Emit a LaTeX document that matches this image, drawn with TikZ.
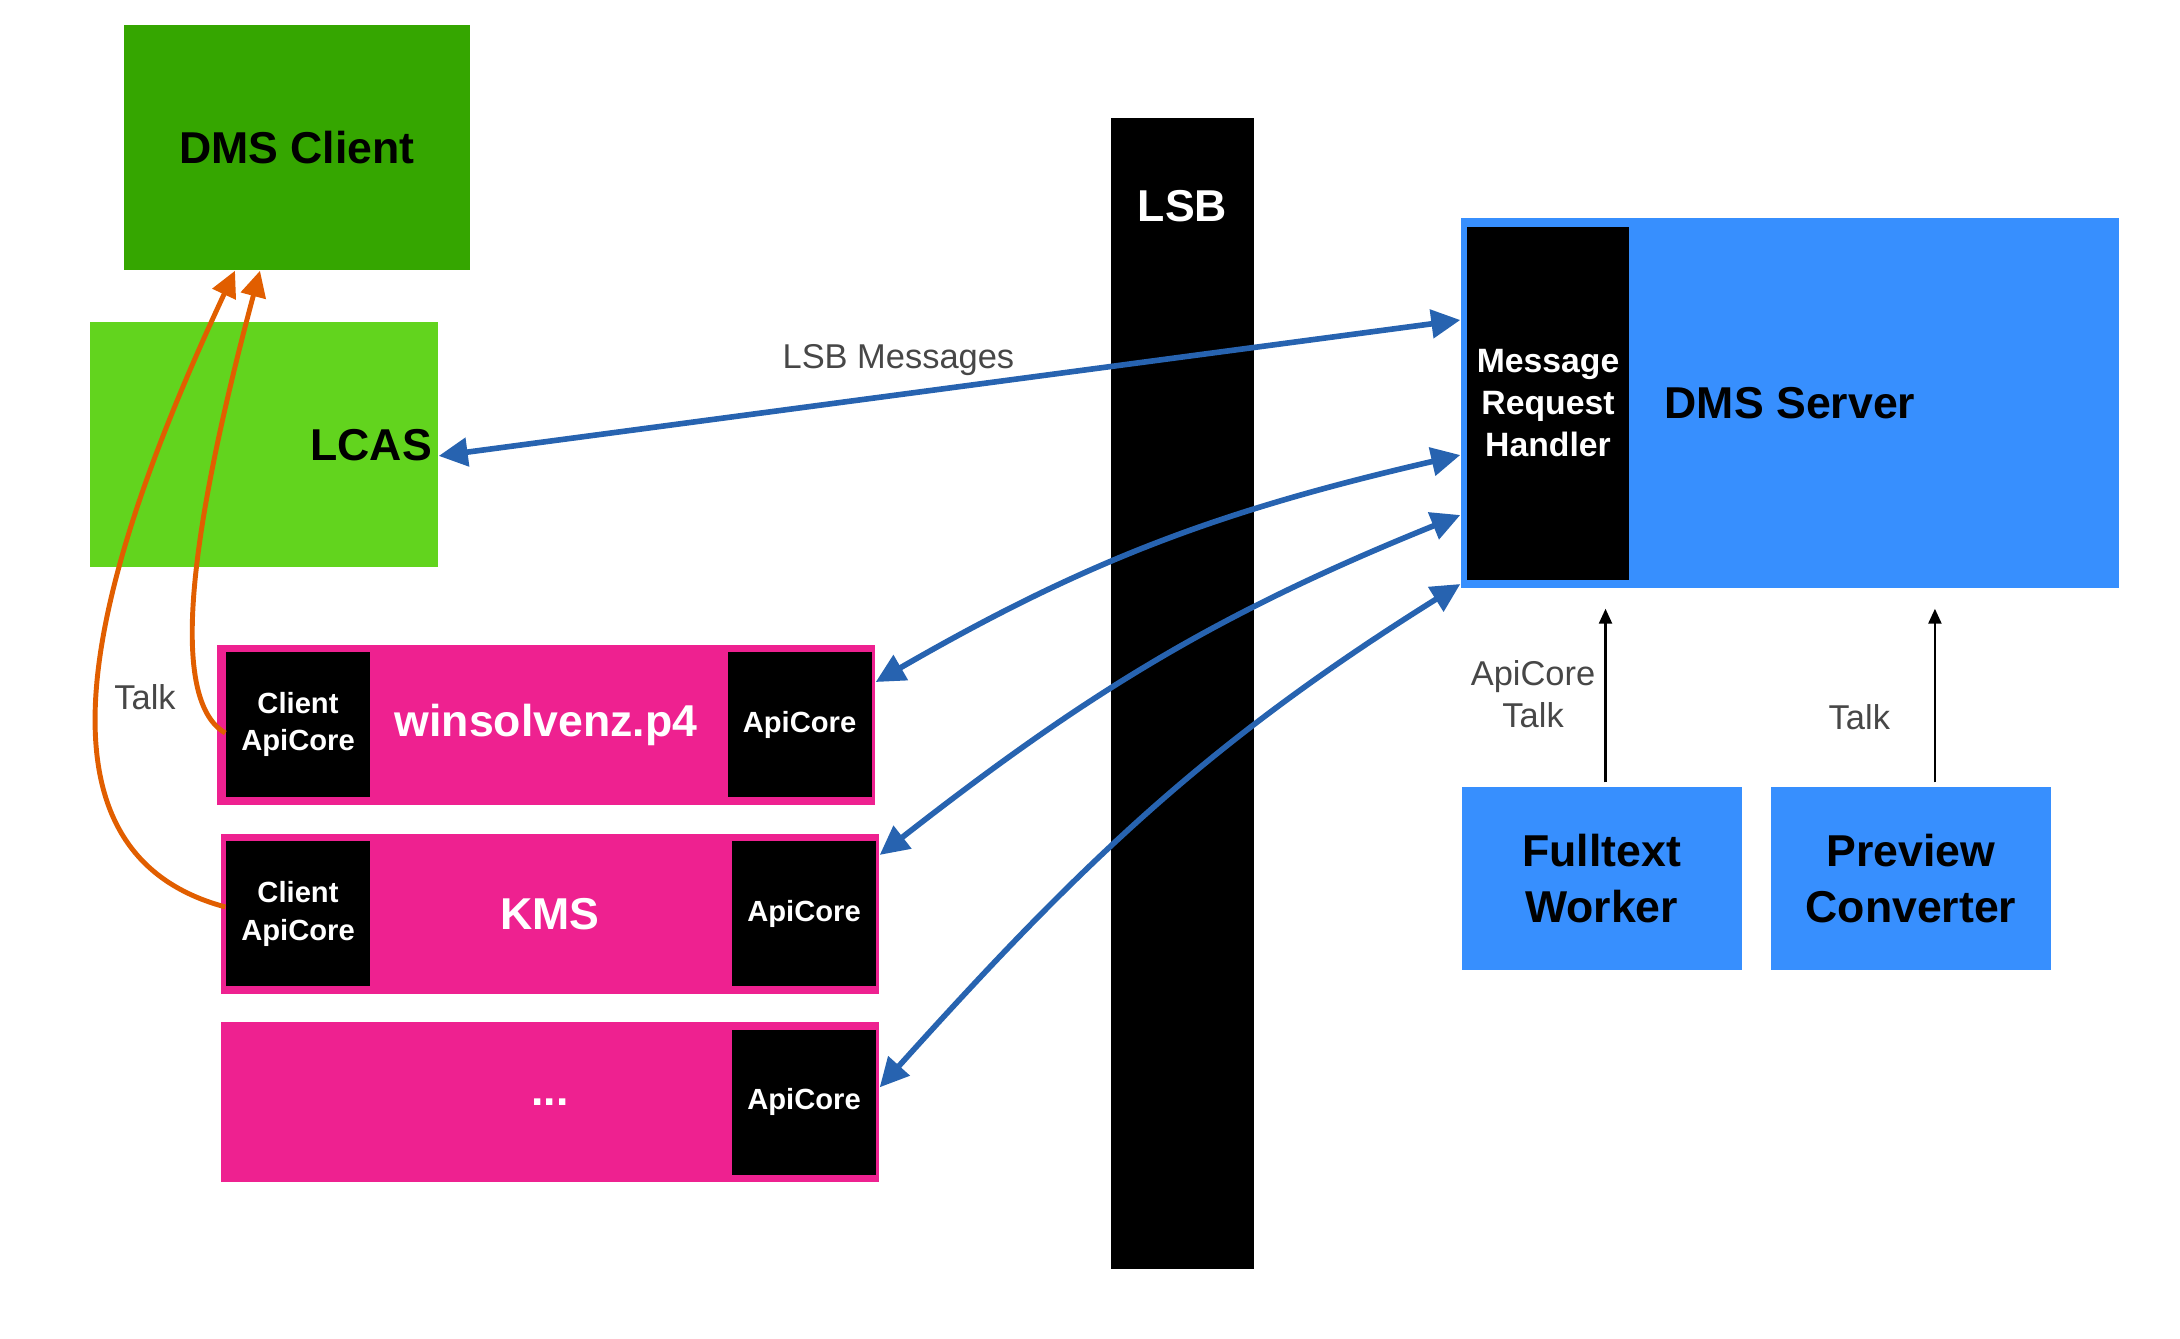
\documentclass[tikz,border=0pt]{standalone}
\usepackage{fontspec}
\setmainfont{Liberation Sans}
\usetikzlibrary{arrows.meta, positioning}

\definecolor{clientgreen}{HTML}{35A600}
\definecolor{lcasgreen}{HTML}{62D41E}
\definecolor{serverblue}{HTML}{378FFE}
\definecolor{apppink}{HTML}{EE2190}
\definecolor{linkblue}{HTML}{2763B0}
\definecolor{talkorange}{HTML}{E15E00}
\definecolor{labelgray}{HTML}{474747}

\tikzset{
    box/.style={rectangle, inner sep=0pt, align=center, font=\fontsize{12.7}{16.2}\selectfont\bfseries},
    clientbox/.style={box, fill=clientgreen, minimum width=3.46cm, minimum height=2.45cm},
    lcasbox/.style={box, fill=lcasgreen, minimum height=2.45cm, text width=3.36cm, inner xsep=0.6mm, align=right},
    serverbox/.style={box, fill=serverblue, minimum width=6.58cm, minimum height=3.70cm},
    handlerbox/.style={box, fill=black, text=white, minimum width=1.62cm, minimum height=3.53cm, font=\fontsize{9.6}{11.9}\selectfont\bfseries},
    appbox/.style={box, fill=apppink, text=white, minimum width=6.58cm, minimum height=1.60cm},
    corebox/.style={box, fill=black, text=white, minimum width=1.44cm, minimum height=1.45cm, font=\fontsize{8.3}{10.7}\selectfont\bfseries},
    workerbox/.style={box, fill=serverblue, minimum width=2.80cm, minimum height=1.83cm},
    busbar/.style={box, fill=black, minimum width=1.43cm, minimum height=11.51cm},
    note/.style={font=\fontsize{9.8}{11.9}\selectfont, text=labelgray, align=center},
    link/.style={>={Triangle[length=2.9mm, width=2.8mm]}, <->, line width=1.6pt, draw=linkblue},
    talk/.style={>={Triangle[length=2.6mm, width=2.5mm]}, ->, line width=1.4pt, draw=talkorange},
    callup/.style={-{Triangle[length=1.5mm, width=1.3mm]}, line width=0.7pt, shorten <=0.4mm, shorten >=2mm}
}

\begin{document}
\begin{tikzpicture}
    \useasboundingbox (0,0) rectangle (21.8,-13.38);

    \node (client) [clientbox] at (2.97,-1.475) {DMS Client};
    \node (lcas) [lcasbox, below=0.51cm of client, xshift=-3.3mm] {LCAS};

    \node (lsb) [busbar] at (11.825,-6.935) {};
    \node (lsblabel) [box, text=white] at ([yshift=-8.9mm]lsb.north) {LSB};

    \node (server) [serverbox] at (17.90,-4.03) {DMS Server};
    \node (handler) [handlerbox, right=0.6mm of server.west] {Message\\Request\\Handler};

    \node (app1) [appbox] at (5.46,-7.245) {winsolvenz.p4};
    \node (app2) [appbox, below=0.28cm of app1, xshift=0.4mm] {KMS};
    \node (app3) [appbox, below=0.27cm of app2] {...};

    \node (core1) [corebox, right=0.9mm of app1.west] {Client\\ApiCore};
    \node (api1) [corebox, left=0.35mm of app1.east] {ApiCore};
    \node (core2) [corebox, right=0.5mm of app2.west] {Client\\ApiCore};
    \node (api2) [corebox, left=0.3mm of app2.east] {ApiCore};
    \node (api3) [corebox, left=0.3mm of app3.east] {ApiCore};

    \node (fulltext) [workerbox] at (16.015,-8.785) {Fulltext\\Worker};
    \node (preview) [workerbox, right=0.28cm of fulltext] {Preview\\Converter};

    \draw [link] ([yshift=-1.1mm]lcas.east) -- node[note, pos=0.45, above=0.5mm] {LSB Messages} ([yshift=8.3mm]server.west);
    \draw [link] ([yshift=4.25mm]app1.east) to[out=30, in=193] ([yshift=-5.2mm]server.west);
    \draw [link] ([yshift=5.9mm]app2.east) to[out=38, in=202] ([yshift=-11.2mm]server.west);
    \draw [link] ([yshift=1.5mm]app3.east) to[out=48, in=212] ([yshift=-18.1mm]server.west);

    \draw [talk] ([yshift=-0.85mm]core1.west) .. controls +(150:0.7) and +(255:2.5) .. ([xshift=-3.7mm]client.south);
    \draw [talk] ([yshift=0.7mm]core2.west) .. controls +(165:2.2) and +(245:3.3) .. ([xshift=-6.2mm]client.south);
    \node (talklabel) [note] at (1.45,-6.97) {Talk};

    \draw [callup] ([xshift=0.4mm]fulltext.north) -- node[note, pos=0.465, left, inner sep=0.9mm] {ApiCore\\Talk} ([xshift=0.4mm]fulltext.north |- server.south);
    \draw [callup] ([xshift=2.4mm]preview.north) -- node[note, pos=0.35, left=3.2mm] {Talk} ([xshift=2.4mm]preview.north |- server.south);
\end{tikzpicture}
\end{document}
